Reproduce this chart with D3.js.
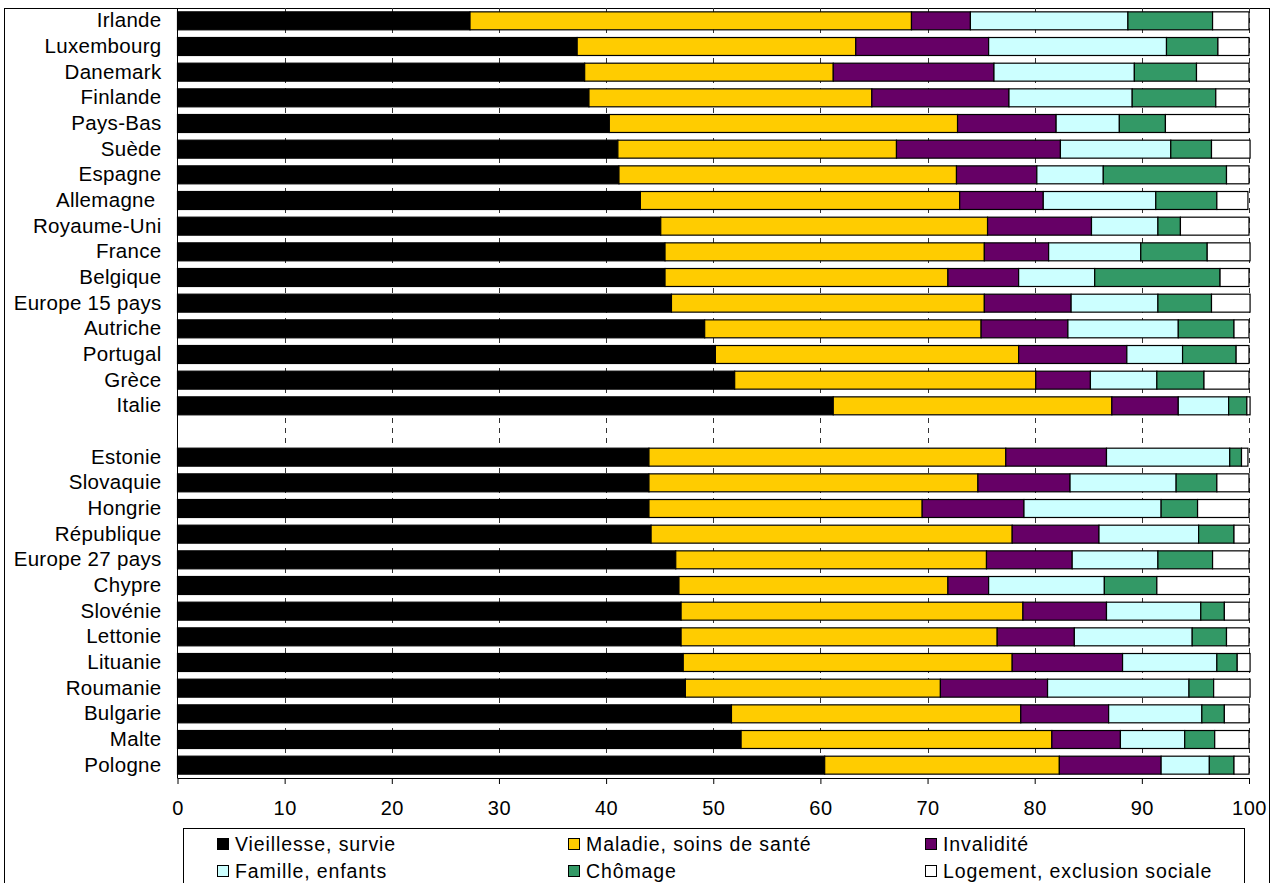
<!DOCTYPE html>
<html>
<head>
<meta charset="utf-8">
<script src="https://cdn.jsdelivr.net/npm/d3@7"></script>
<style>
  html, body { margin: 0; padding: 0; background: #fff; }
  svg { display: block; font-family: "Liberation Sans", Arial, sans-serif; }
  text { white-space: pre; }
</style>
</head>
<body>
<svg id="chart" width="1278" height="883"></svg>
<script>
// ---------- data ----------
const categories = ["Irlande","Luxembourg","Danemark","Finlande","Pays-Bas","Suède","Espagne","Allemagne ","Royaume-Uni","France","Belgique","Europe 15 pays","Autriche","Portugal","Grèce","Italie","","Estonie","Slovaquie","Hongrie","République","Europe 27 pays","Chypre","Slovénie","Lettonie","Lituanie","Roumanie","Bulgarie","Malte","Pologne"];

const seriesNames = ["Vieillesse, survie","Maladie, soins de santé","Invalidité","Famille, enfants","Chômage","Logement, exclusion sociale"];

const vieillesse = [27.3,37.3,38.0,38.4,40.3,41.1,41.2,43.2,45.1,45.5,45.5,46.1,49.2,50.2,52.0,61.2,null,44.0,44.0,44.0,44.2,46.5,46.8,47.0,47.0,47.2,47.4,51.7,52.6,60.4];
const maladie    = [41.2,26.0,23.2,26.4,32.5,26.0,31.5,29.8,30.5,29.8,26.4,29.2,25.8,28.3,28.1,26.0,null,33.3,30.7,25.5,33.7,29.0,25.1,31.9,29.5,30.7,23.8,27.0,29.0,21.9];
const invalidite = [5.5,12.4,15.0,12.8,9.2,15.3,7.5,7.8,9.7,6.0,6.6,8.1,8.1,10.1,5.1,6.2,null,9.4,8.6,9.5,8.1,8.0,3.8,7.8,7.2,10.3,10.0,8.2,6.4,9.5];
const famille    = [14.7,16.6,13.1,11.5,5.9,10.3,6.2,10.5,6.2,8.6,7.1,8.1,10.3,5.2,6.2,4.7,null,11.5,9.9,12.8,9.3,8.0,10.8,8.8,11.0,8.8,13.2,8.7,6.0,4.5];
const chomage    = [7.9,4.8,5.8,7.8,4.3,3.8,11.5,5.7,2.1,6.2,11.7,5.0,5.2,5.0,4.4,1.7,null,1.1,3.8,3.4,3.3,5.1,4.9,2.2,3.2,1.9,2.3,2.1,2.8,2.3];
const logement   = [3.4,2.9,4.9,3.1,7.8,3.6,2.1,2.9,6.4,4.0,2.7,3.6,1.4,1.2,4.2,0.3,null,0.6,3.0,4.8,1.4,3.4,8.6,2.3,2.1,1.2,3.4,2.3,3.2,1.4];

const xTicks = [0,10,20,30,40,50,60,70,80,90,100];
const colors = ["#000000","#FFCC00","#660066","#CCFFFF","#339966","#FFFFFF"];

// ---------- layout ----------
const svg = d3.select("#chart");
const plotLeft = 177.5, plotRight = 1249, plotTop = 8, plotBottom = 778;

const x = d3.scaleLinear().domain([0, 100]).range([plotLeft, plotRight]);
const y = d3.scaleBand().domain(d3.range(categories.length)).range([plotTop, plotBottom])
  .paddingInner(0.3).paddingOuter(0.15);

// outer frame
svg.append("rect").attr("x", 4.5).attr("y", 8.5).attr("width", 1265).attr("height", 900)
  .attr("fill", "none").attr("stroke", "#000").attr("stroke-width", 1);

// dashed gridlines
svg.append("g").selectAll("line").data(xTicks.filter(d => d > 0)).join("line")
  .attr("x1", d => Math.round(x(d)) + 0.5).attr("x2", d => Math.round(x(d)) + 0.5)
  .attr("y1", plotTop).attr("y2", plotBottom)
  .attr("stroke", "#333").attr("stroke-width", 1).attr("stroke-dasharray", "5,5");

// stacked bars
const allSeries = [vieillesse, maladie, invalidite, famille, chomage, logement];
const rows = categories.map((c, i) => {
  const r = { idx: i };
  allSeries.forEach((s, k) => r["s" + k] = s[i]);
  return r;
}).filter(r => r.s0 !== null);

const stack = d3.stack().keys(d3.range(6).map(k => "s" + k));
const stacked = stack(rows);

svg.append("g").selectAll("g").data(stacked).join("g")
  .attr("fill", (d, k) => colors[k])
  .selectAll("rect").data(d => d).join("rect")
  .attr("x", d => x(d[0]))
  .attr("width", d => Math.max(0, x(d[1]) - x(d[0])))
  .attr("y", d => y(d.data.idx))
  .attr("height", y.bandwidth())
  .attr("stroke", "#000").attr("stroke-width", 1.2);

// category axis
const yAxis = svg.append("g").attr("transform", `translate(${plotLeft},0)`)
  .call(d3.axisLeft(y).tickFormat(i => categories[i]).tickSize(0).tickPadding(16));
yAxis.select(".domain").remove();
yAxis.selectAll("text")
  .attr("xml:space", "preserve")
  .style("font-family", "'Liberation Sans', Arial, sans-serif")
  .style("font-size", "20.5px").style("letter-spacing", "0.3px").attr("fill", "#000");
svg.append("line").attr("x1", plotLeft).attr("x2", plotLeft).attr("y1", plotTop).attr("y2", plotBottom)
  .attr("stroke", "#000").attr("stroke-width", 1);

// value axis
const xAxis = svg.append("g").attr("transform", `translate(0,${plotBottom})`)
  .call(d3.axisBottom(x).tickValues(xTicks).tickSize(6).tickPadding(17).tickFormat(d3.format("d")));
xAxis.select(".domain").attr("d", `M${plotLeft},0.5H${plotRight}`).attr("stroke", "#000");
xAxis.selectAll(".tick line").attr("stroke", "#000");
xAxis.selectAll("text")
  .style("font-family", "'Liberation Sans', Arial, sans-serif")
  .style("font-size", "20px").style("letter-spacing", "0.5px").attr("fill", "#000");

// legend
svg.append("rect").attr("x", 183.5).attr("y", 828.5).attr("width", 1061).attr("height", 80)
  .attr("fill", "#fff").attr("stroke", "#000").attr("stroke-width", 1);
const legCols = [217, 568, 925];
const legRows = [844, 871];
const leg = svg.append("g").selectAll("g").data(seriesNames).join("g")
  .attr("transform", (d, i) => `translate(${legCols[i % 3]},${legRows[Math.floor(i / 3)]})`);
leg.append("rect").attr("x", 0.5).attr("y", -5.5).attr("width", 11).attr("height", 11)
  .attr("fill", (d, i) => colors[i]).attr("stroke", "#000").attr("stroke-width", 1);
leg.append("text").attr("x", 18).attr("y", 0).attr("dy", "0.36em")
  .style("font-size", "19.5px").style("letter-spacing", "0.9px").attr("fill", "#000")
  .text(d => d);
</script>
</body>
</html>
